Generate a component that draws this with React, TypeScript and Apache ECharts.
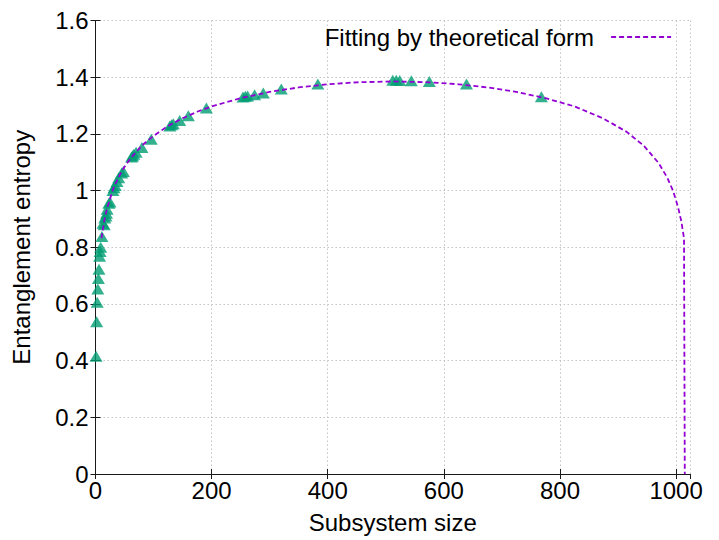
import React, { useEffect, useRef } from "react";
import * as echarts from "echarts";

const FONT = "'Liberation Sans', Arial, Helvetica, sans-serif";

// Measured entanglement entropy (subsystem size, entropy)
const dataX = [1, 2, 3, 4, 5, 6, 7, 8, 9, 11, 13, 15, 16, 18, 19, 20, 23, 25, 30, 32, 34, 37, 40, 45, 48, 62, 64, 66, 70, 80, 96, 128, 131, 134, 145, 160, 191, 254, 258, 262, 274, 289, 320, 383, 512, 518, 524, 544, 575, 639, 768];
const dataY = [0.415, 0.537, 0.606, 0.653, 0.69, 0.722, 0.768, 0.785, 0.8, 0.838, 0.885, 0.879, 0.903, 0.91, 0.92, 0.934, 0.955, 0.96, 1.0, 1.01, 1.018, 1.032, 1.045, 1.062, 1.067, 1.118, 1.122, 1.128, 1.135, 1.152, 1.181, 1.228, 1.232, 1.236, 1.247, 1.264, 1.291, 1.33, 1.333, 1.334, 1.338, 1.344, 1.358, 1.376, 1.389, 1.389, 1.388, 1.387, 1.385, 1.376, 1.331];

// Fitting curve
const fitX = [10.3, 15, 20, 30, 40, 50, 60, 80, 100, 125, 150, 175, 200, 250, 300, 350, 400, 450, 512, 575, 625, 675, 725, 775, 825, 875, 915, 945, 970, 985, 995, 1003.3, 1009, 1013.7, 1015];
const fitY = [0.832, 0.892, 0.938, 1.003, 1.049, 1.084, 1.113, 1.159, 1.193, 1.228, 1.255, 1.278, 1.297, 1.326, 1.348, 1.364, 1.375, 1.382, 1.385, 1.382, 1.375, 1.364, 1.348, 1.326, 1.297, 1.254, 1.207, 1.157, 1.097, 1.045, 0.998, 0.943, 0.892, 0.832, 0];

const xTicksInterval = 200;
const yTicksInterval = 0.2;
const xMax = 1024;
const yMax = 1.6;

const legendName = "Fitting by theoretical form";

export default function App() {
  const ref = useRef<HTMLDivElement>(null);

  useEffect(() => {
    if (!ref.current) return;
    const chart = echarts.init(ref.current, null, { renderer: "svg" });

    const gridLine = {
      show: true,
      lineStyle: { color: "#c4c4c4", width: 1, type: [1.5, 2.5] as any },
    };
    const axisLine = { show: true, lineStyle: { color: "#1a1a1a", width: 1 } };
    const tick = { show: true, inside: true, length: 5, lineStyle: { color: "#1a1a1a" } };

    chart.setOption({
      animation: false,
      textStyle: { fontFamily: FONT },
      grid: { left: 95.5, right: 29, top: 20.5, bottom: 66, containLabel: false },
      legend: {
        show: true,
        data: [legendName],
        align: "right",
        right: 47,
        top: 25,
        padding: 0,
        itemWidth: 60,
        itemHeight: 14,
        selectedMode: false,
        itemStyle: { opacity: 0 },
        lineStyle: { color: "#9400d3", width: 1.8, type: [5, 3] as any },
        textStyle: { fontFamily: FONT, fontSize: 24, color: "#000", padding: [0, 12, 0, 0] },
      },
      xAxis: [
        {
          type: "value",
          min: 0,
          max: xMax,
          interval: xTicksInterval,
          name: "Subsystem size",
          nameLocation: "middle",
          nameGap: 36,
          nameTextStyle: { fontFamily: FONT, fontSize: 24, color: "#000" },
          axisLine,
          axisTick: tick,
          axisLabel: {
            fontFamily: FONT,
            fontSize: 24,
            color: "#000",
            margin: 4,
            showMaxLabel: false,
            formatter: (v: number) => (v % 200 === 0 ? String(v) : ""),
          },
          splitLine: gridLine,
        },
        {
          type: "value",
          position: "top",
          min: 0,
          max: xMax,
          interval: xTicksInterval,
          axisLine,
          axisTick: tick,
          axisLabel: { show: false },
          splitLine: { show: false },
        },
      ],
      yAxis: [
        {
          type: "value",
          min: 0,
          max: yMax,
          interval: yTicksInterval,
          name: "Entanglement entropy",
          nameLocation: "middle",
          nameGap: 62,
          nameTextStyle: { fontFamily: FONT, fontSize: 24, color: "#000" },
          axisLine,
          axisTick: tick,
          axisLabel: {
            fontFamily: FONT,
            fontSize: 24,
            color: "#000",
            margin: 7,
            formatter: (v: number) => String(Math.round(v * 10) / 10),
          },
          splitLine: gridLine,
        },
        {
          type: "value",
          position: "right",
          min: 0,
          max: yMax,
          interval: yTicksInterval,
          axisLine,
          axisTick: tick,
          axisLabel: { show: false },
          splitLine: { show: false },
        },
      ],
      series: [
        {
          name: "data",
          type: "scatter",
          xAxisIndex: 0,
          yAxisIndex: 0,
          symbol: "triangle",
          symbolSize: [13, 11],
          itemStyle: { color: "#009e73" },
          data: dataX.map((x, i) => [x, dataY[i]]),
          z: 2,
        },
        {
          name: legendName,
          type: "line",
          xAxisIndex: 0,
          yAxisIndex: 0,
          showSymbol: false,
          symbol: "none",
          smooth: false,
          lineStyle: { color: "#9400d3", width: 1.8, type: [5, 3] as any },
          itemStyle: { color: "#9400d3" },
          data: fitX.map((x, i) => [x, fitY[i]]),
          z: 3,
        },
      ],
    });

    return () => chart.dispose();
  }, []);

  return (
    <div
      ref={ref}
      style={{ position: "fixed", left: 0, top: 0, width: 719, height: 540, background: "#fff" }}
    />
  );
}
